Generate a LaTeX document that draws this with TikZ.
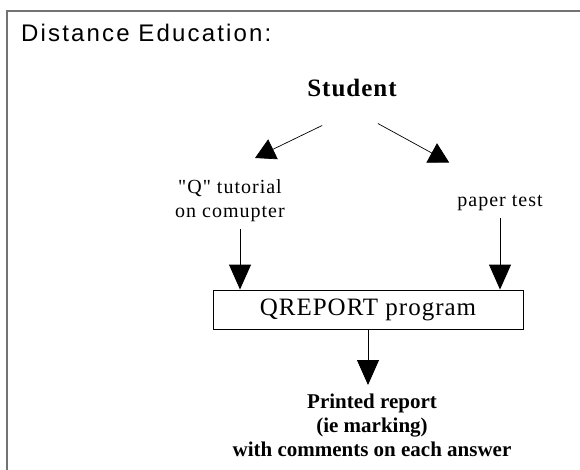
\documentclass[tikz,border=0pt]{standalone}
\usepackage{fontspec}
\setmainfont{Liberation Serif}
\newfontfamily\headfont[LetterSpace=9]{Liberation Sans}
\newfontfamily\looseserif[LetterSpace=5]{Liberation Serif}
\newfontfamily\wideserif[LetterSpace=4]{Liberation Serif}
\usetikzlibrary{arrows.meta}

\begin{document}
\begin{tikzpicture}[x=1pt, y=-1pt,
    arr/.style={-{Triangle[length=25pt,width=22pt]}, line width=0.9pt},
    diag/.style={-{Triangle[length=20pt,width=22pt]}, line width=0.7pt}]
  \useasboundingbox (0,0) rectangle (580,470);

  % Rahmen (nur links und oben sichtbar)
  \draw[black!55, line width=1.6pt] (7,470) -- (7,11) -- (580,11);

  % Titel
  \node[anchor=base west, inner sep=0pt, font=\headfont\fontsize{24}{28}\selectfont] (title) at (21,42) {Distance Education:};

  % Knoten
  \node[anchor=base, inner sep=0pt, font=\wideserif\bfseries\fontsize{25}{30}\selectfont] (student) at (352,97) {Student};
  \node[anchor=north, align=center, inner sep=0pt, font=\looseserif\fontsize{20}{24}\selectfont] (tutorial) at (230,179) {"Q" tutorial\\on comupter};
  \node[anchor=base, inner sep=0pt, font=\looseserif\fontsize{20}{24}\selectfont] (paper) at (500,207) {paper test};
  \node[draw, line width=0.9pt, minimum width=310pt, minimum height=39pt, inner sep=0pt,
        font=\wideserif\fontsize{25}{30}\selectfont] (qreport) at (368,309.5) {QREPORT program};
  \node[anchor=north, align=center, inner sep=0pt, font=\bfseries\fontsize{21}{24}\selectfont] (report) at (372,394)
    {Printed report\\(ie marking)\\with comments on each answer};

  % Pfeile
  \draw[diag] ([xshift=15pt,yshift=-28pt]student.south west) -- ([xshift=25pt,yshift=21pt]tutorial.north);
  \draw[diag] ([xshift=-19pt,yshift=-26pt]student.south east) -- ([xshift=-8pt,yshift=33pt]paper.north west);

  \coordinate (tin) at ([xshift=10pt,yshift=-7pt]tutorial.south);
  \coordinate (pin) at ([yshift=-7pt]paper.south);
  \coordinate (rtop) at ([yshift=9pt]report.north);
  \draw[arr] (tin) -- (tin |- qreport.north);
  \draw[arr] (pin) -- (pin |- qreport.north);
  \draw[arr] (qreport.south) -- (qreport.south |- rtop);

\end{tikzpicture}
\end{document}
